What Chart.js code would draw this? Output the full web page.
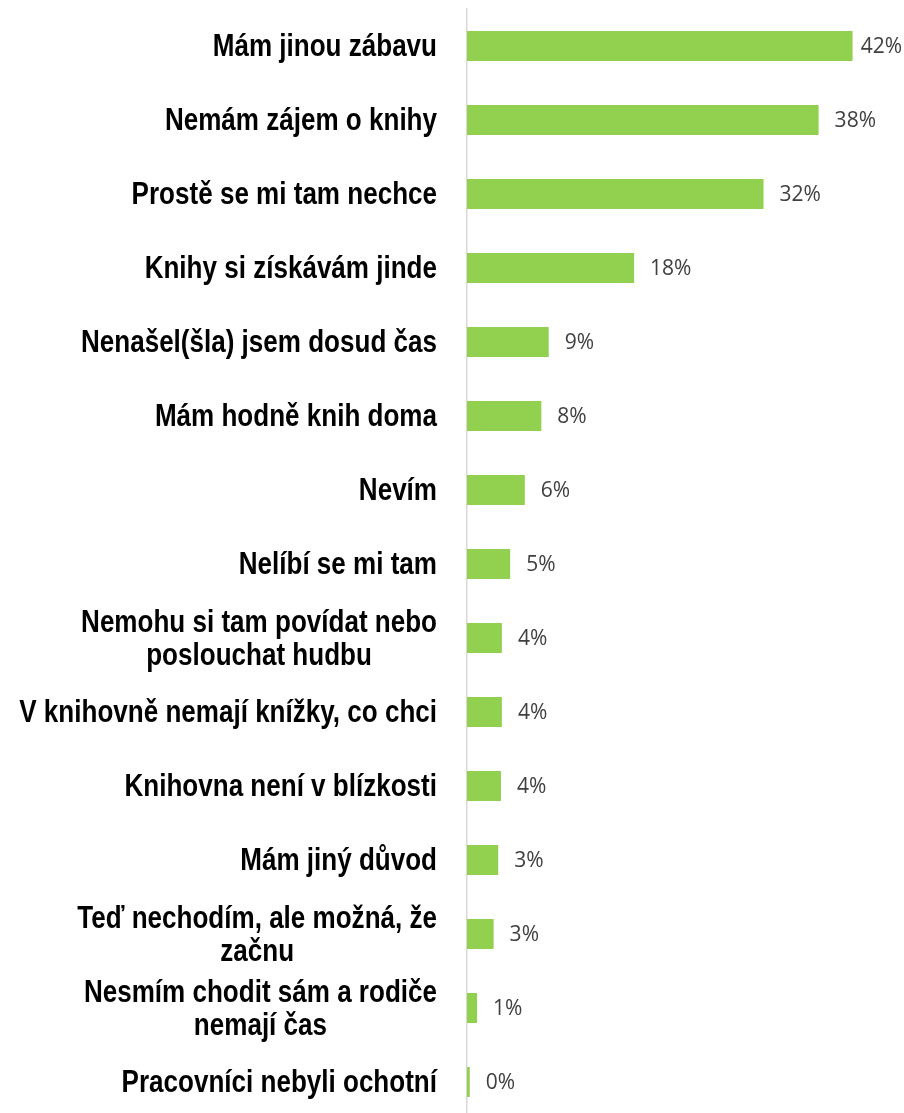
<!DOCTYPE html>
<html>
<head>
<meta charset="utf-8">
<script src="https://cdn.jsdelivr.net/npm/chart.js@4"></script>
<style>
  html, body { margin: 0; padding: 0; background: #fff; overflow: hidden; }
  #wrap { position: relative; width: 904px; height: 1122px; }
</style>
</head>
<body>
<div id="wrap"><canvas id="chart"></canvas></div>
<script>
const categories = [
    ['Mám jinou zábavu'],
    ['Nemám zájem o knihy'],
    ['Prostě se mi tam nechce'],
    ['Knihy si získávám jinde'],
    ['Nenašel(šla) jsem dosud čas'],
    ['Mám hodně knih doma'],
    ['Nevím'],
    ['Nelíbí se mi tam'],
    ['Nemohu si tam povídat nebo', 'poslouchat hudbu'],
    ['V knihovně nemají knížky, co chci'],
    ['Knihovna není v blízkosti'],
    ['Mám jiný důvod'],
    ['Teď nechodím, ale možná, že', 'začnu'],
    ['Nesmím chodit sám a rodiče', 'nemají čas'],
    ['Pracovníci nebyli ochotní']
];
const shares = [42.0, 38.3, 32.3, 18.2, 8.9, 8.1, 6.3, 4.7, 3.8, 3.8, 3.7, 3.4, 2.9, 1.1, 0.3];

const barColor = '#92D050';
const labelFont = 'bold 31px "Liberation Sans", Arial, sans-serif';
const labelSquash = 0.84;
const valueFont = '21px "Open Sans", sans-serif';

// category labels: block right-aligned against the axis, lines centred inside it
const categoryLabels = {
    id: 'categoryLabels',
    afterDraw(chart) {
        const ctx = chart.ctx;
        const yScale = chart.scales.y;
        const right = chart.chartArea.left - 30;
        const lineGap = 33;
        const cap = 22;
        ctx.save();
        ctx.font = labelFont;
        ctx.fillStyle = '#000';
        ctx.textBaseline = 'alphabetic';
        ctx.textAlign = 'center';
        categories.forEach((lines, i) => {
            const yc = yScale.getPixelForValue(i);
            const widths = lines.map(l => ctx.measureText(l).width * labelSquash);
            const blockW = Math.max(...widths);
            const cx = right - blockW / 2;
            const blockH = cap + (lines.length - 1) * lineGap;
            let base = yc - blockH / 2 + cap - 1;
            lines.forEach((l, k) => {
                ctx.save();
                ctx.translate(cx, base + k * lineGap);
                ctx.scale(labelSquash, 1);
                ctx.fillText(l, 0, 0);
                ctx.restore();
            });
        });
        ctx.restore();
    }
};

// value labels at the end of every bar
const valueLabels = {
    id: 'valueLabels',
    afterDatasetsDraw(chart) {
        const ctx = chart.ctx;
        const meta = chart.getDatasetMeta(0);
        ctx.save();
        ctx.font = valueFont;
        ctx.fillStyle = '#404040';
        ctx.textBaseline = 'alphabetic';
        ctx.textAlign = 'left';
        meta.data.forEach((bar, i) => {
            const txt = Math.round(shares[i]) + '%';
            const w = ctx.measureText(txt).width;
            let x = bar.x + 16;
            if (x + w > chart.width - 2) x = chart.width - 2 - w;
            ctx.fillText(txt, x, bar.y + 7);
        });
        ctx.restore();
    }
};

new Chart(document.getElementById('chart'), {
    type: 'bar',
    data: {
        labels: categories.map(c => c.join(' ')),
        datasets: [{
            data: shares,
            backgroundColor: barColor,
            borderWidth: 0,
            barPercentage: 0.405,
            categoryPercentage: 1
        }]
    },
    options: {
        indexAxis: 'y',
        responsive: true,
        maintainAspectRatio: false,
        animation: false,
        layout: { padding: { left: 467, right: 0, top: 9, bottom: 3 } },
        plugins: {
            legend: { display: false },
            tooltip: { enabled: false }
        },
        scales: {
            x: { display: false, min: 0, max: 47.6 },
            y: {
                ticks: { display: false },
                grid: { display: false, drawTicks: false },
                border: { display: true, color: '#d9d9d9', width: 1.5 }
            }
        }
    },
    plugins: [categoryLabels, valueLabels]
});
</script>
</body>
</html>
